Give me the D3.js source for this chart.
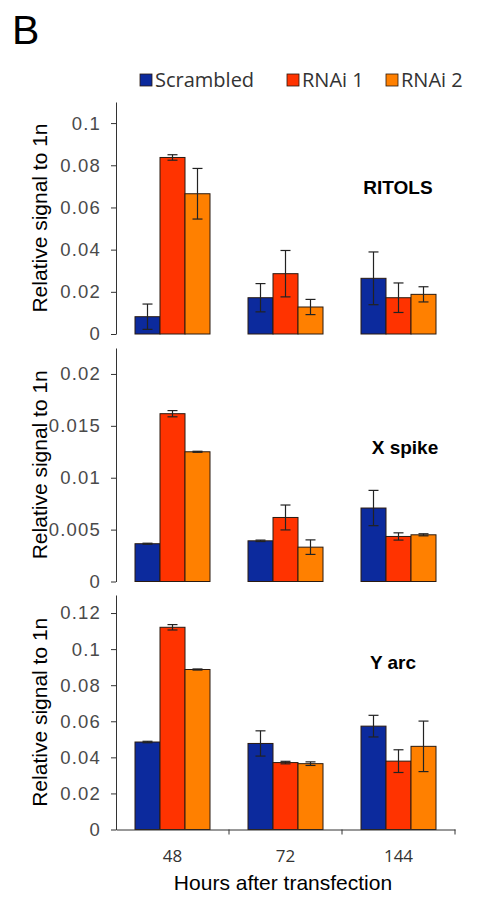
<!DOCTYPE html>
<meta charset="utf-8">
<script src="https://d3js.org/d3.v7.min.js"></script>
<style>
  body { margin: 0; background: #fff; }
</style>
<div id="my_dataviz"></div>
<script>

// data
var hours = ["48", "72", "144"]
var series = ["Scrambled", "RNAi 1", "RNAi 2"]
var colors = ["#0c2a9d", "#ff3300", "#ff8000"]

var ritolsMean = [[0.0082, 0.0837, 0.0665], [0.0172, 0.0286, 0.0128], [0.0264, 0.0172, 0.0188]]
var ritolsErr  = [[0.006, 0.0013, 0.012], [0.0067, 0.011, 0.0036], [0.0125, 0.007, 0.0036]]
var ritolsTicks = [0, 0.02, 0.04, 0.06, 0.08, 0.1]

var xspikeMean = [[0.00364, 0.01617, 0.0125], [0.00392, 0.00617, 0.00331], [0.00708, 0.00434, 0.0045]]
var xspikeErr  = [[0.00005, 0.0003, 0.00005], [0.00007, 0.0012, 0.0007], [0.0017, 0.00035, 0.0001]]
var xspikeTicks = [0, 0.005, 0.01, 0.015, 0.02]

var yarcMean = [[0.0485, 0.1121, 0.0887], [0.0477, 0.0371, 0.0365], [0.0573, 0.0379, 0.0461]]
var yarcErr  = [[0.0004, 0.0015, 0.0003], [0.007, 0.0007, 0.001], [0.006, 0.0063, 0.014]]
var yarcTicks = [0, 0.02, 0.04, 0.06, 0.08, 0.1, 0.12]

var panels = [
  {name: "RITOLS", mean: ritolsMean, err: ritolsErr, ticks: ritolsTicks, max: 0.11, top: 102, bottom: 334, lx: 398, ly: 187},
  {name: "X spike", mean: xspikeMean, err: xspikeErr, ticks: xspikeTicks, max: 0.0225, top: 348, bottom: 581.5, lx: 405, ly: 447},
  {name: "Y arc", mean: yarcMean, err: yarcErr, ticks: yarcTicks, max: 0.13, top: 595, bottom: 829.5, lx: 393, ly: 662}
]

var width = 482, height = 899

var svg = d3.select("#my_dataviz")
  .append("svg")
    .attr("width", width)
    .attr("height", height)

svg.append("text")
  .attr("x", 12)
  .attr("y", 44)
  .style("font-family", "Liberation Sans, Arial, sans-serif")
  .style("font-size", "41px")
  .text("B")

var x = d3.scaleBand()
  .domain(hours)
  .range([116, 455])

var xSub = d3.scaleBand()
  .domain(series)
  .range([0, x.bandwidth()])
  .paddingOuter(0.76)

var color = d3.scaleOrdinal().domain(series).range(colors)

panels.forEach(function(p, pi) {
  var y = d3.scaleLinear()
    .domain([0, p.max])
    .range([p.bottom, p.top])

  var g = svg.append("g")

  // y axis
  var yAxis = g.append("g")
    .attr("transform", "translate(116,0)")
    .call(d3.axisLeft(y).tickValues(p.ticks).tickSize(5).tickSizeOuter(0).tickPadding(10)
      .tickFormat(function(d){ return d3.format("~g")(d) }))
  yAxis.select(".domain").attr("stroke", "#333")
  yAxis.selectAll(".tick line").attr("stroke", "#333")
  yAxis.selectAll("text")
    .style("font-family", "Liberation Sans, Arial, sans-serif")
    .style("font-size", "18.5px")
    .style("letter-spacing", "1.2px")
    .attr("fill", "#4a4a4a")

  g.append("text")
    .attr("transform", "rotate(-90)")
    .attr("x", -(p.top + p.bottom) / 2)
    .attr("y", 47)
    .style("text-anchor", "middle")
    .style("font-family", "Liberation Sans, Arial, sans-serif")
    .style("font-size", "21px")
    .text("Relative signal to 1n")

  // bars
  var rows = []
  hours.forEach(function(h, hi) {
    series.forEach(function(s, si) {
      rows.push({hour: h, key: s, value: p.mean[hi][si], err: p.err[hi][si]})
    })
  })

  g.selectAll("rect.bar")
    .data(rows)
    .enter().append("rect")
      .attr("class", "bar")
      .attr("x", function(d){ return x(d.hour) + xSub(d.key) })
      .attr("y", function(d){ return y(d.value) })
      .attr("width", xSub.bandwidth())
      .attr("height", function(d){ return y(0) - y(d.value) })
      .attr("fill", function(d){ return color(d.key) })
      .attr("stroke", "#2a1a10")
      .attr("stroke-width", 1)

  // error bars
  var cap = 5
  var eb = g.selectAll("g.err")
    .data(rows)
    .enter().append("g")
      .attr("class", "err")
      .attr("stroke", "#222")
      .attr("stroke-width", 1.2)
  eb.append("line")
    .attr("x1", function(d){ return x(d.hour) + xSub(d.key) + xSub.bandwidth() / 2 })
    .attr("x2", function(d){ return x(d.hour) + xSub(d.key) + xSub.bandwidth() / 2 })
    .attr("y1", function(d){ return y(d.value + d.err) })
    .attr("y2", function(d){ return y(d.value - d.err) })
  eb.append("line")
    .attr("x1", function(d){ return x(d.hour) + xSub(d.key) + xSub.bandwidth() / 2 - cap })
    .attr("x2", function(d){ return x(d.hour) + xSub(d.key) + xSub.bandwidth() / 2 + cap })
    .attr("y1", function(d){ return y(d.value + d.err) })
    .attr("y2", function(d){ return y(d.value + d.err) })
  eb.append("line")
    .attr("x1", function(d){ return x(d.hour) + xSub(d.key) + xSub.bandwidth() / 2 - cap })
    .attr("x2", function(d){ return x(d.hour) + xSub(d.key) + xSub.bandwidth() / 2 + cap })
    .attr("y1", function(d){ return y(d.value - d.err) })
    .attr("y2", function(d){ return y(d.value - d.err) })

  // panel label
  g.append("text")
    .attr("x", p.lx)
    .attr("y", p.ly)
    .attr("dy", "0.35em")
    .style("text-anchor", "middle")
    .style("font-family", "Liberation Sans, Arial, sans-serif")
    .style("font-weight", "bold")
    .style("font-size", "19px")
    .text(p.name)

  // x axis only on the bottom panel
  if (pi == panels.length - 1) {
    var xAxis = g.append("g")
      .attr("transform", "translate(0," + y(0) + ")")
      .call(d3.axisBottom(x).tickSize(0).tickPadding(20))
    xAxis.select(".domain").attr("stroke", "#333")
    xAxis.selectAll("text")
      .style("font-family", "Open Sans, sans-serif")
      .style("font-size", "17px")
      .attr("fill", "#333")
    // tick marks sit between the categories
    xAxis.selectAll(".sep")
      .data(hours)
      .enter().append("line")
        .attr("class", "sep")
        .attr("x1", function(d){ return x(d) + x.bandwidth() })
        .attr("x2", function(d){ return x(d) + x.bandwidth() })
        .attr("y1", 0)
        .attr("y2", 5)
        .attr("stroke", "#333")

    svg.append("text")
      .attr("x", 283)
      .attr("y", 890)
      .style("text-anchor", "middle")
      .style("font-family", "Liberation Sans, Arial, sans-serif")
      .style("font-size", "21px")
      .text("Hours after transfection")
  }
})

// legend
var legX = [140, 287, 386]
var legend = svg.selectAll("g.leg")
  .data(series)
  .enter().append("g")
    .attr("class", "leg")
    .attr("transform", function(d, i){ return "translate(" + legX[i] + ",74)" })
legend.append("rect")
  .attr("width", 12)
  .attr("height", 12)
  .attr("fill", function(d){ return color(d) })
  .attr("stroke", "#2a1a10")
  .attr("stroke-width", 0.8)
legend.append("text")
  .attr("x", 15)
  .attr("y", 6)
  .attr("dy", "0.36em")
  .style("font-family", "Open Sans, sans-serif")
  .style("font-size", "20px")
  .attr("fill", "#333")
  .text(function(d){ return d })

</script>
